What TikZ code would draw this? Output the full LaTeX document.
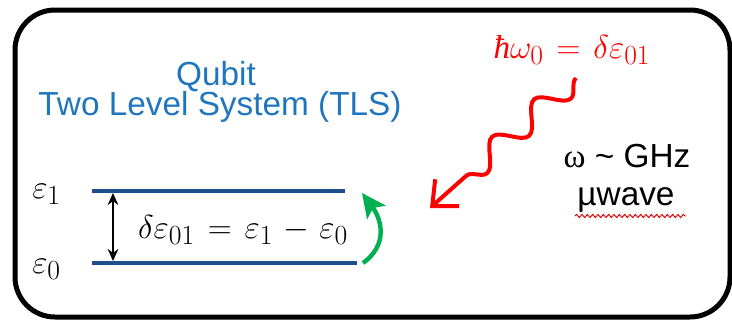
\documentclass[tikz,border=0pt]{standalone}
\usepackage[no-math]{fontspec}
\setmainfont{Liberation Sans}
\newfontfamily\greekserif{Liberation Serif}
\usetikzlibrary{arrows.meta,decorations.pathmorphing}

\definecolor{qubitblue}{RGB}{32,118,190}
\definecolor{leveldark}{RGB}{31,78,140}
\definecolor{photonred}{RGB}{255,0,0}
\definecolor{excitegreen}{RGB}{0,176,80}

\thickmuskip=7mu plus 2mu\relax
\medmuskip=5.5mu plus 2mu\relax

\begin{document}
\begin{tikzpicture}[x=0.75pt,y=-0.75pt,
    txt/.style={inner sep=0pt,font=\fontsize{25}{28}\selectfont},
    mathtxt/.style={inner sep=0pt,font=\fontsize{24.88}{30}\selectfont},
    levelline/.style={draw=leveldark,line width=2.4pt},
    gaparrow/.style={{Stealth[length=9pt,width=8pt]}-{Stealth[length=9pt,width=8pt]},line width=1.4pt},
    excite/.style={draw=excitegreen,line width=3.3pt,-{Stealth[length=18pt,width=17pt,inset=4pt]}},
    photon/.style={draw=photonred,line width=3pt,decorate,
        decoration={snake,amplitude=9pt,segment length=42pt,post length=18pt},
        -{Straight Barb[length=15pt,width=27pt]}},
    squiggle/.style={draw=photonred!85!black,line width=0.7pt,decorate,
        decoration={snake,amplitude=1.2pt,segment length=4pt}}]
    \useasboundingbox (0,0) rectangle (732,322);

    % Frame
    \draw[line width=3.75pt,rounded corners=30pt] (15,10) rectangle (730,317);

    % Title
    \node[txt,qubitblue,anchor=base] (qubit) at (216,85) {Qubit};
    \node[txt,qubitblue,anchor=base] (tls) at (220,115) {Two Level System (TLS)};

    % Levels
    \coordinate (E1L) at (92,191);
    \coordinate (E1R) at (345,191);
    \coordinate (E0L) at (92,263);
    \coordinate (E0R) at (357,263);
    \draw[levelline] (E1L) -- (E1R);
    \draw[levelline] (E0L) -- (E0R);
    \node[mathtxt,anchor=base west] (eps1) at (32,198) {$\varepsilon_1$};
    \node[mathtxt,anchor=base west] (eps0) at (32,273) {$\varepsilon_0$};

    % Gap
    \coordinate (A1) at (113,193);
    \coordinate (A0) at (113,261);
    \draw[gaparrow] (A1) -- (A0);
    \node[mathtxt,anchor=base] (gap) at (243,238) {$\delta\varepsilon_{01}=\varepsilon_1-\varepsilon_0$};

    % Excitation
    \coordinate (G0) at (363,263);
    \coordinate (G1) at (362,193);
    \draw[excite] (G0) .. controls (388,245) and (382,220) .. (G1);

    % Photon
    \node[mathtxt,photonred,anchor=base] (hw) at (572,58) {$\mbox{\greekserif\itshape ħ}\omega_0=\delta\varepsilon_{01}$};
    \coordinate (P0) at (576,78);
    \coordinate (P1) at (430,208);
    \draw[photon] (P0) -- (P1);

    % Frequency
    \node[txt,anchor=base] (ghz) at (627,167) {{\greekserif ω} \textasciitilde{} GHz};
    \node[txt,anchor=base] (uwave) at (626,205) {µwave};
    \coordinate (U0) at (575,216);
    \coordinate (U1) at (686,216);
    \draw[squiggle] (U0) -- (U1);
\end{tikzpicture}
\end{document}
